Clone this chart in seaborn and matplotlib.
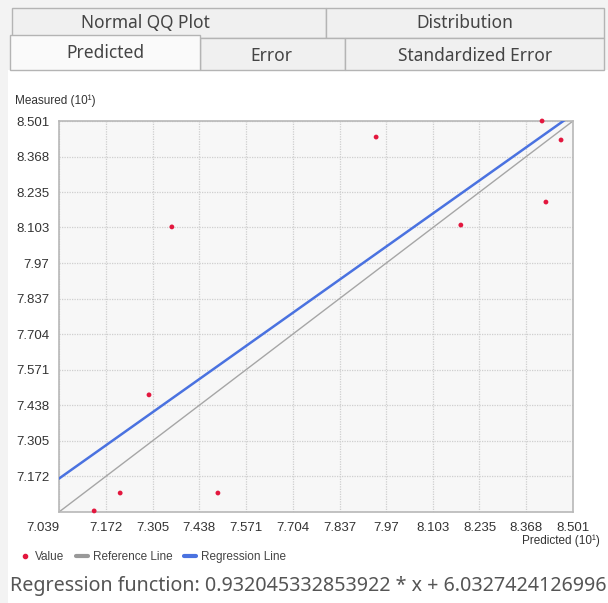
import numpy as np
import pandas as pd
import matplotlib
matplotlib.use('Agg')
import matplotlib.pyplot as plt
import seaborn as sns
from matplotlib.patches import Rectangle
from matplotlib.lines import Line2D

# values (units of 10^1)
predicted = [7.139, 7.213, 7.295, 7.360, 7.491, 7.941, 8.182, 8.413, 8.424, 8.467]
measured = [7.043, 7.110, 7.477, 8.105, 7.110, 8.441, 8.112, 8.501, 8.198, 8.430]
ticks = [7.039, 7.172, 7.305, 7.438, 7.571, 7.704, 7.837, 7.97, 8.103, 8.235, 8.368, 8.501]
tick_labels = ['7.039', '7.172', '7.305', '7.438', '7.571', '7.704', '7.837', '7.97',
               '8.103', '8.235', '8.368', '8.501']
slope = 0.932045332853922
intercept = 6.0327424126996
tab_row1 = ['Normal QQ Plot', 'Distribution']
tab_row2 = ['Predicted', 'Error', 'Standardized Error']

W, H = 608, 603
sns.set_style('white')
plt.rcParams['font.family'] = ['Liberation Sans', 'DejaVu Sans']

fig = plt.figure(figsize=(W / 100, H / 100), dpi=100, facecolor='#f3f3f3')


def box(x0, y0, x1, y1, fc, ec='#b4b4b4', z=1):
    fig.add_artist(Rectangle((x0 / W, 1 - y1 / H), (x1 - x0) / W, (y1 - y0) / H,
                             transform=fig.transFigure, facecolor=fc, edgecolor=ec,
                             linewidth=1, zorder=z))


def label(x, y, s, size, color='#333333', ha='center', family='Noto Sans', **kw):
    fig.text(x / W, 1 - y / H, s, fontsize=size, color=color, ha=ha, va='center',
             family=[family, 'DejaVu Sans'], **kw)


# white content panel
box(8, 70, W + 2, H + 2, '#ffffff', ec='none', z=0)

# tabs
box(12, 8, 326, 38, '#f0f0f0')
box(326, 8, 604, 38, '#f0f0f0')
box(200, 38, 345, 70, '#f0f0f0')
box(345, 38, 604, 70, '#f0f0f0')
box(10, 35, 200, 70, '#fafafa', z=2)
label(145, 23, tab_row1[0], 12.5, color='#444444')
label(465, 23, tab_row1[1], 12.5, color='#444444')
label(105, 53, tab_row2[0], 12.5, color='#444444')
label(271, 56, tab_row2[1], 12.5, color='#444444')
label(475, 56, tab_row2[2], 12.5, color='#444444')

ax = fig.add_axes([59 / W, 1 - 512 / H, (573 - 59) / W, (512 - 121) / H])
ax.set_facecolor('#f7f7f7')

df = pd.DataFrame({'Predicted': predicted, 'Measured': measured})
line_x = np.array([ticks[0], ticks[-1]])
ref = pd.DataFrame({'x': line_x, 'y': line_x})
reg = pd.DataFrame({'x': line_x, 'y': slope * line_x + intercept / 10})

sns.lineplot(data=ref, x='x', y='y', ax=ax, color='#a6a6a6', linewidth=1, zorder=2)
sns.lineplot(data=reg, x='x', y='y', ax=ax, color='#4a72e0', linewidth=1.8, zorder=3)
sns.scatterplot(data=df, x='Predicted', y='Measured', ax=ax, color='#e3173e', s=12,
                edgecolor='none', zorder=4, clip_on=False)

ax.set_xlim(ticks[0], ticks[-1])
ax.set_ylim(ticks[0], ticks[-1])
ax.set_xticks(ticks)
ax.set_xticklabels(tick_labels)
ax.set_yticks(ticks)
ax.set_yticklabels([''] + tick_labels[1:])
ax.xaxis.get_majorticklabels()[0].set_horizontalalignment('right')
ax.tick_params(length=0, labelsize=9.5, labelcolor='#333333', pad=7)
ax.grid(True, color='#cfcfcf', linestyle=(0, (1, 1)), linewidth=0.9)
for sp in ax.spines.values():
    sp.set_color('#b8b8b8')
    sp.set_linewidth(1.2)
ax.set_xlabel('')
ax.set_ylabel('')

label(15, 101, 'Measured (10\u00b9)', 8.5, ha='left', family='Liberation Sans')
label(600, 541, 'Predicted (10\u00b9)', 8.5, ha='right', family='Liberation Sans')

handles = [Line2D([], [], marker='o', linestyle='none', color='#e3173e', markersize=3),
           Line2D([], [], color='#999999', linewidth=3),
           Line2D([], [], color='#4a72e0', linewidth=3)]
fig.legend(handles, ['Value', 'Reference Line', 'Regression Line'], loc='center left',
           bbox_to_anchor=(8 / W, 1 - 557 / H), ncol=3, frameon=False, fontsize=8.5,
           labelcolor='#444444', handlelength=1.0, handletextpad=0.4, columnspacing=1.0)

label(10, 586, f'Regression function: {slope} * x + {intercept}', 14.2,
      color='#555555', ha='left')

fig.savefig('out.png', dpi=100, facecolor=fig.get_facecolor())
